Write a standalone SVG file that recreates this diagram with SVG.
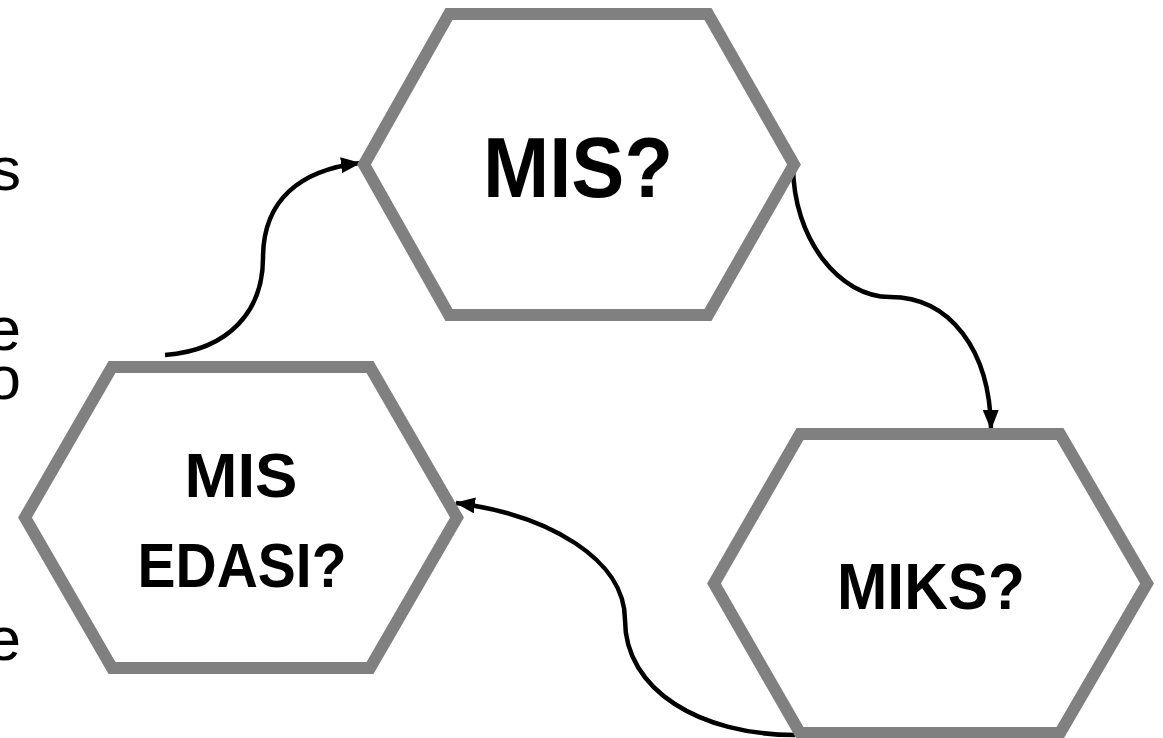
<svg xmlns="http://www.w3.org/2000/svg" width="1163" height="738" viewBox="0 0 1163 738">
<style>
.hex{fill:#ffffff;stroke:#808080;stroke-width:12;stroke-linejoin:miter}
.lbl{font-family:"Liberation Sans",Arial,sans-serif;font-weight:bold;fill:#000;text-anchor:middle}
.side{font-family:"Liberation Sans",Arial,sans-serif;font-size:62px;fill:#000;text-anchor:end}
.conn{fill:none;stroke:#000;stroke-width:4.5;marker-end:url(#arr)}
</style>
<defs>
<marker id="arr" markerUnits="userSpaceOnUse" markerWidth="20" markerHeight="16" refX="19" refY="8" orient="auto">
<path d="M0,0 L20,8 L0,16 z" fill="#000"/>
</marker>
</defs>
<rect width="1163" height="738" fill="#fff"/>
<g id="side-text">
<text class="side" x="21" y="190">s</text>
<text class="side" x="21" y="350">e</text>
<text class="side" x="21" y="399">o</text>
<text class="side" x="21" y="660">e</text>
</g>
<g id="connectors">
<path class="conn" d="M165,355 C230,350 263,310 263,258 C263,200 300,170 360,163"/>
<path class="conn" d="M793,165 C793,240 840,297 890,297 C950,297 990,350 991,429"/>
<path class="conn" d="M795,735 C700,735 625,690 625,620 C625,560 550,515 456,503"/>
</g>
<g id="node-mis">
<polygon class="hex" points="364,164.5 449,14 708,14 794,164.5 708,315 449,315"/>
<text class="lbl" x="578" y="197" font-size="86" textLength="190" lengthAdjust="spacingAndGlyphs">MIS?</text>
</g>
<g id="node-mis-edasi">
<polygon class="hex" points="25,517.5 112,367 370,367 457,517.5 370,668 112,668"/>
<text class="lbl" x="241" y="497" font-size="63" textLength="113" lengthAdjust="spacingAndGlyphs">MIS</text>
<text class="lbl" x="242" y="587" font-size="63" textLength="209" lengthAdjust="spacingAndGlyphs">EDASI?</text>
</g>
<g id="node-miks">
<polygon class="hex" points="714,583.5 800,434 1060,434 1147,583.5 1060,733 800,733"/>
<text class="lbl" x="931" y="609" font-size="64" textLength="188" lengthAdjust="spacingAndGlyphs">MIKS?</text>
</g>
</svg>
